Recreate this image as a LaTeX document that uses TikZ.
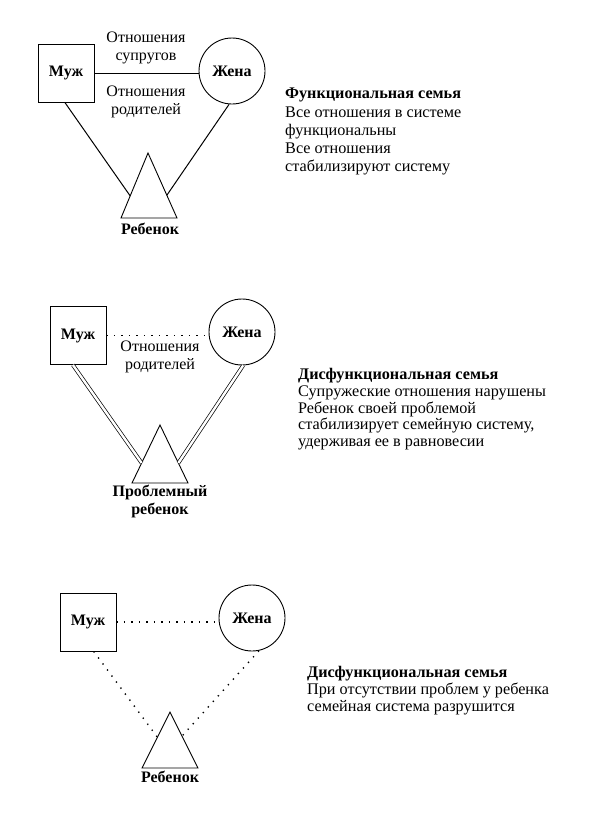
\documentclass[tikz,border=0pt]{standalone}
\usepackage{fontspec}
\setmainfont{Liberation Serif}
\usetikzlibrary{calc}
\begin{document}
\begin{tikzpicture}[x=1pt,y=-1pt,
  every node/.style={font=\fontsize{16}{18}\selectfont},
  shapeline/.style={line width=0.9pt},
  husband/.style={draw,shapeline,rectangle,minimum width=56,minimum height=58,inner sep=0,font=\fontsize{16}{18}\selectfont\bfseries},
  wife/.style={draw,shapeline,circle,minimum size=66,inner sep=0,font=\fontsize{16}{18}\selectfont\bfseries},
  child/.style={shapeline,line join=miter},
  relline/.style={line width=1pt},
  dotline/.style={line width=1.4pt,dash pattern=on 1.3pt off 6.2pt},
  dblline/.style={double,double distance=2.4pt,line width=0.7pt},
  lbl/.style={align=center,inner sep=0},
  blbl/.style={align=center,inner sep=0,font=\fontsize{16}{18}\selectfont\bfseries},
  txt/.style={align=left,anchor=north west,inner sep=0,font=\fontsize{16.2}{18.2}\selectfont},
  txtb/.style={txt,font=\fontsize{16.2}{16.8}\selectfont}
]
\useasboundingbox (0,0) rectangle (591,828);
% ---------- Diagram 1 ----------
\node[husband] (m1) at (66,73) {Муж};
\node[wife] (w1) at (232,71) {Жена};
\coordinate (t1a) at (148,153);
\coordinate (t1l) at (121,218);
\coordinate (t1r) at (177,218);
\draw[child] (t1a) -- (t1l) -- (t1r) -- cycle;
\coordinate (t1pl) at ($(t1a)!0.66!(t1l)$);
\coordinate (t1pr) at ($(t1a)!0.65!(t1r)$);
\coordinate (m1b) at ($(m1.south west)!0.48!(m1.south east)$);
\draw[relline] (m1.east) -- (m1.east -| w1.west);
\draw[relline] (m1b) -- (t1pl);
\draw[relline] (w1.265) -- (t1pr);
\node[lbl] (l1a) at (146,48) {Отношения\\супругов};
\node[lbl] (l1b) at (146,102) {Отношения\\родителей};
\node[blbl] (c1) at (150,229) {Ребенок};
\node[txt] (d1) at (285,88) {\textbf{Функциональная семья}\\Все отношения в системе\\функциональны\\Все отношения\\стабилизируют систему};
% ---------- Diagram 2 ----------
\node[husband] (m2) at (78,335.5) {Муж};
\node[wife] (w2) at (242,332) {Жена};
\coordinate (t2a) at (160,425);
\coordinate (t2l) at (132,483);
\coordinate (t2r) at (188,483);
\draw[child] (t2a) -- (t2l) -- (t2r) -- cycle;
\coordinate (t2pl) at ($(t2a)!0.655!(t2l)$);
\coordinate (t2pr) at ($(t2a)!0.655!(t2r)$);
\coordinate (m2b) at ($(m2.south west)!0.41!(m2.south east)$);
\draw[dotline] (m2.east) -- (m2.east -| w2.west);
\draw[dblline] (m2b) -- (t2pl);
\draw[dblline] (w2.-88) -- (t2pr);
\node[lbl] (l2) at (160,357) {Отношения\\родителей};
\node[blbl] (c2) at (160,501) {Проблемный\\ребенок};
\node[txtb] (d2) at (298,368) {\textbf{Дисфункциональная семья}\\Супружеские отношения нарушены\\Ребенок своей проблемой\\стабилизирует семейную систему,\\удерживая ее в равновесии};
% ---------- Diagram 3 ----------
\node[husband] (m3) at (88,622) {Муж};
\node[wife] (w3) at (252,618) {Жена};
\coordinate (t3a) at (170,712);
\coordinate (t3l) at (142,768);
\coordinate (t3r) at (198,768);
\draw[child] (t3a) -- (t3l) -- (t3r) -- cycle;
\coordinate (t3pl) at ($(t3a)!0.45!(t3l)$);
\coordinate (t3pr) at ($(t3a)!0.43!(t3r)$);
\coordinate (m3b) at ($(m3.south west)!0.6!(m3.south east)$);
\draw[dotline] (m3.east) -- (m3.east -| w3.west);
\draw[dotline] (m3b) -- (t3pl);
\draw[dotline] (w3.-78) -- (t3pr);
\node[blbl] (c3) at (170,777) {Ребенок};
\node[txtb] (d3) at (307,666) {\textbf{Дисфункциональная семья}\\При отсутствии проблем у ребенка\\семейная система разрушится};
\end{tikzpicture}
\end{document}
